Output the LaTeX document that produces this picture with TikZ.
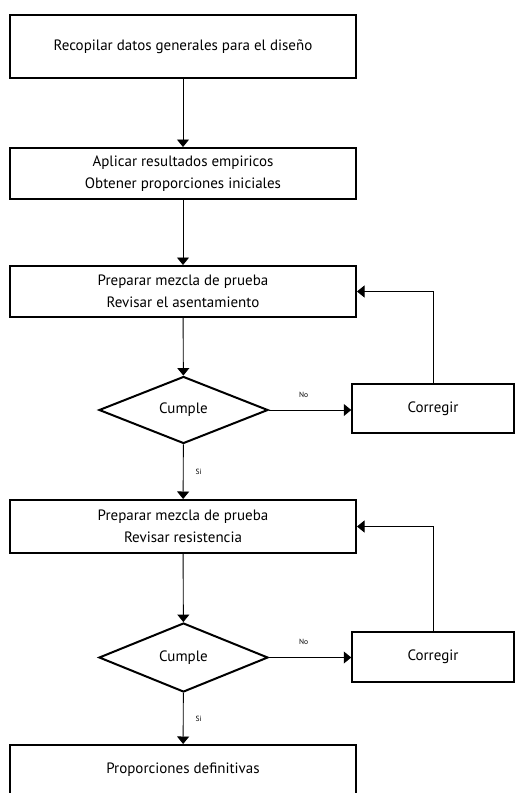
\documentclass[tikz,border=0pt]{standalone}
\usepackage{fontspec}
\setmainfont{PT Sans}
\usetikzlibrary{arrows.meta,shapes.geometric}

\begin{document}
\begin{tikzpicture}[x=1pt,y=-1pt,
    caja/.style={draw, line width=2pt, minimum width=346pt, inner sep=0pt,
      align=center, font=\fontsize{15}{22}\selectfont},
    decision/.style={draw, diamond, line width=2pt, minimum width=169pt,
      minimum height=67pt, inner sep=0pt, font=\fontsize{15}{18}\selectfont},
    corregir/.style={draw, line width=1.5pt, minimum width=162pt,
      minimum height=49pt, inner sep=0pt, font=\fontsize{15}{18}\selectfont},
    flecha/.style={line width=0.9pt, -{Triangle[width=12pt,length=7.5pt]}},
    etiqueta/.style={font=\fontsize{7.5}{9}\selectfont, inner sep=0pt}
  ]
  \useasboundingbox (0,0) rectangle (515,793);

  % pasos principales
  \node[caja, minimum height=63pt] (datos) at (183,46.5)
    {Recopilar datos generales para el diseño};
  \node[caja, minimum height=51pt] (empiricos) at (183,173.5)
    {Aplicar resultados empiricos\\Obtener proporciones iniciales};
  \node[caja, minimum height=51pt] (asentamiento) at (183,291.5)
    {Preparar mezcla de prueba\\Revisar el asentamiento};
  \node[decision, minimum height=67pt] (cumpleA) at (183.5,410) {Cumple};
  \node[corregir] (corregirA) at (433,408.5) {Corregir};
  \node[caja, minimum height=53pt] (resistencia) at (183,526.5)
    {Preparar mezcla de prueba\\Revisar resistencia};
  \node[decision, minimum height=69pt] (cumpleB) at (183.5,657.5) {Cumple};
  \node[corregir, minimum height=50pt] (corregirB) at (433,657) {Corregir};
  \node[caja, minimum height=50pt] (definitivas) at (183,770)
    {Proporciones definitivas};

  % conectores
  \draw[flecha] (datos) -- (empiricos);
  \draw[flecha] (empiricos) -- (asentamiento);
  \draw[flecha] (asentamiento) -- (cumpleA);
  \draw[flecha] (cumpleA.east) -- (corregirA.west |- cumpleA.east)
    node[etiqueta, pos=0.42, above=12pt] {No};
  \draw[flecha] (corregirA.north) |- (asentamiento.east);
  \draw[flecha] (cumpleA) -- (resistencia)
    node[etiqueta, midway, right=12pt] {Si};
  \draw[flecha] (resistencia) -- (cumpleB);
  \draw[flecha] (cumpleB.east) -- (corregirB.west |- cumpleB.east)
    node[etiqueta, pos=0.42, above=12pt] {No};
  \draw[flecha] (corregirB.north) |- (resistencia.east);
  \draw[flecha] (cumpleB) -- (definitivas)
    node[etiqueta, midway, right=12pt] {Si};
\end{tikzpicture}
\end{document}
